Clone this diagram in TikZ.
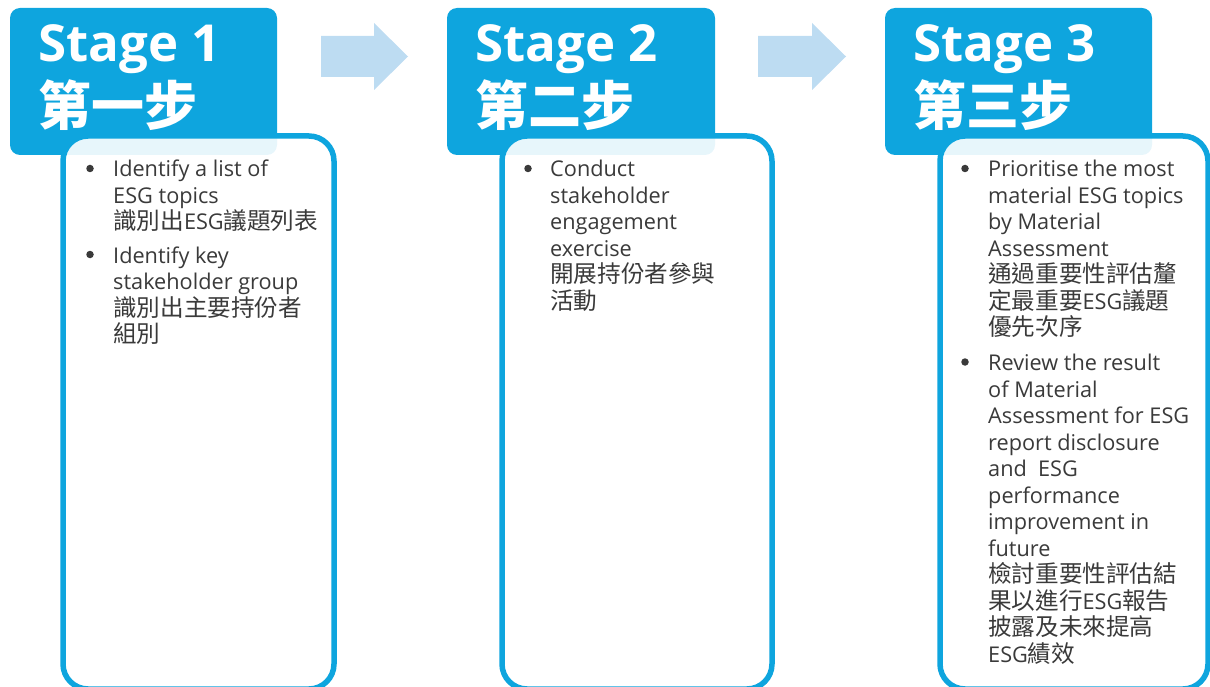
\documentclass[tikz,border=0pt]{standalone}
\usepackage{fontspec}
\setmainfont{Open Sans}
\newfontfamily\cjk{Noto Sans CJK TC}
\definecolor{hdrblue}{HTML}{0EA5DE}
\definecolor{arrowblue}{HTML}{BDDCF2}
\definecolor{txtgray}{HTML}{3A3A3A}
\newcommand\zh[1]{{\cjk\fontsize{23.6}{26.5}\selectfont #1}}
\newcommand\lns[1]{\vtop{\baselineskip=26.5pt\lineskiplimit=-100pt\lineskip=0pt #1}}
\newcommand\lnx[1]{\hbox{#1}}
\tikzset{
  header/.style={fill=hdrblue, rounded corners=10pt},
  contentbox/.style={draw=hdrblue, line width=5.5pt, fill=white, fill opacity=0.9, draw opacity=1, rounded corners=25pt},
  stagetxt/.style={anchor=base west, inner sep=0pt, text=white, font=\fontsize{51}{55}\selectfont\bfseries},
  stagezh/.style={anchor=base west, inner sep=0pt, text=white, font=\cjk\fontsize{53}{55}\selectfont\bfseries},
  itemtxt/.style={anchor=base west, inner sep=0pt, text=txtgray, font=\fontsize{21.7}{26.5}\selectfont},
  bullet/.style={circle, fill=txtgray, inner sep=0pt, minimum size=7.5pt},
  blockarrow/.style={fill=arrowblue}
}
\begin{document}
\begin{tikzpicture}[x=1pt,y=-1pt]
\useasboundingbox (0,0) rectangle (1210,687);
% headers
\fill[header] (10,8) rectangle (277,155);
\fill[header] (447,8) rectangle (715,155);
\fill[header] (885,8) rectangle (1152,155);
% block arrows
\fill[blockarrow] (321,36) -- (374,36) -- (374,23) -- (408,56.5) -- (374,90) -- (374,77) -- (321,77) -- cycle;
\fill[blockarrow] (758,36) -- (812,36) -- (812,23) -- (846,56.5) -- (812,90) -- (812,77) -- (758,77) -- cycle;
% content boxes
\begin{scope}
\clip (0,0) rectangle (1210,687);
\path[contentbox] (63,136) rectangle (334,689);
\path[contentbox] (502,136) rectangle (772,689);
\path[contentbox] (940,136) rectangle (1208,689);
\end{scope}
% header texts
\node[stagetxt] (s1) at (38,62) {Stage 1};
\node[stagezh] (z1) at (38,126) {第一步};
\node[stagetxt] (s2) at (475,62) {Stage 2};
\node[stagezh] (z2) at (475,126) {第二步};
\node[stagetxt] (s3) at (913,62) {Stage 3};
\node[stagezh] (z3) at (913,126) {第三步};
% box 1
\node[bullet] (b11) at (90,168.5) {};
\node[itemtxt] (t11) at (113,177) {\lns{\lnx{Identify a list of}\lnx{ESG topics}\lnx{\zh{識別出}ESG\zh{議題列表}}}};
\node[bullet] (b12) at (90,254.5) {};
\node[itemtxt] (t12) at (113,263) {\lns{\lnx{Identify key}\lnx{stakeholder group}\lnx{\zh{識別出主要持份者}}\lnx{\zh{組別}}}};
% box 2
\node[bullet] (b21) at (528,168.5) {};
\node[itemtxt] (t21) at (550,177) {\lns{\lnx{Conduct}\lnx{stakeholder}\lnx{engagement}\lnx{exercise}\lnx{\zh{開展持份者參與}}\lnx{\zh{活動}}}};
% box 3
\node[bullet] (b31) at (965,168.5) {};
\node[itemtxt] (t31) at (988,177) {\lns{\lnx{Prioritise the most}\lnx{material ESG topics}\lnx{by Material}\lnx{Assessment}\lnx{\zh{通過重要性評估釐}}\lnx{\zh{定最重要}ESG\zh{議題}}\lnx{\zh{優先次序}}}};
\node[bullet] (b32) at (965,362) {};
\node[itemtxt] (t32) at (988,370.5) {\lns{\lnx{Review the result}\lnx{of Material}\lnx{Assessment for ESG}\lnx{report disclosure}\lnx{and\ \ ESG}\lnx{performance}\lnx{improvement in}\lnx{future}\lnx{\zh{檢討重要性評估結}}\lnx{\zh{果以進行}ESG\zh{報告}}\lnx{\zh{披露及未來提高}}\lnx{ESG\zh{績效}}}};
\end{tikzpicture}
\end{document}
